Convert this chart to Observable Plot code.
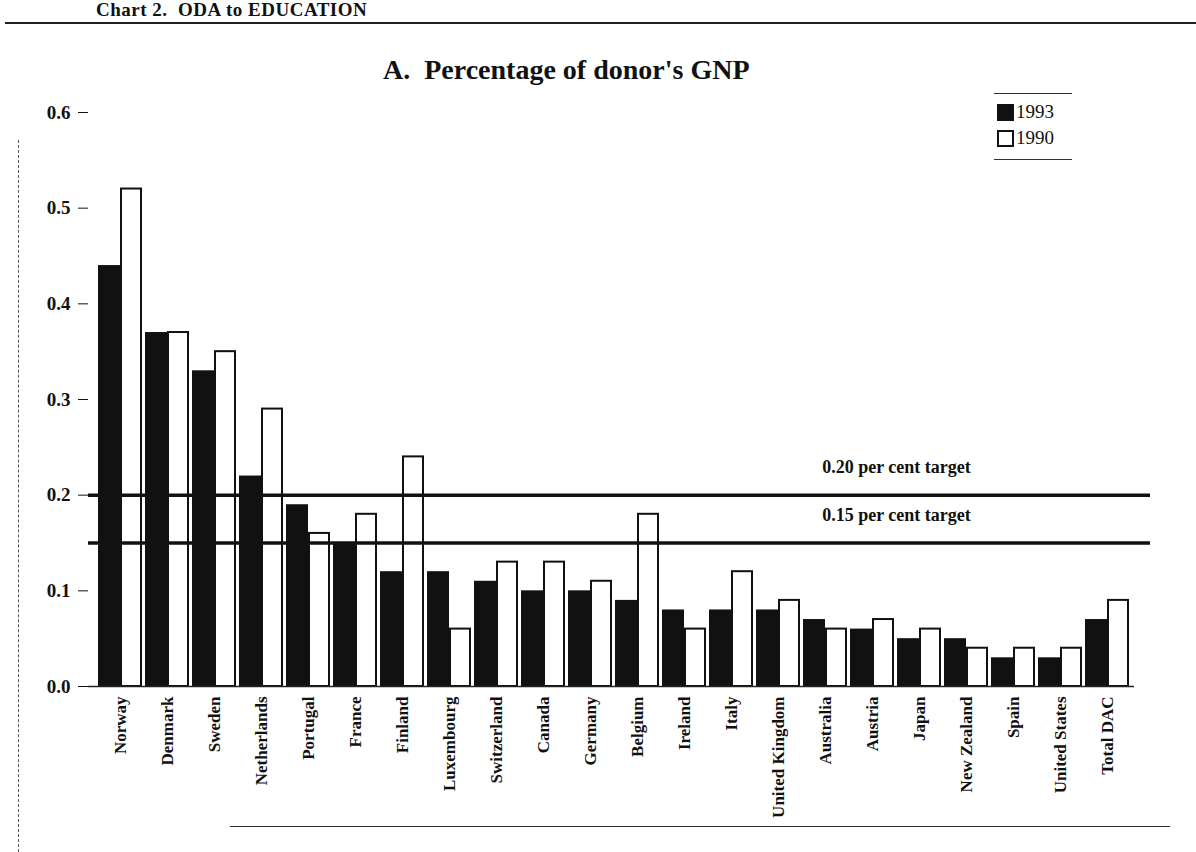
<!DOCTYPE html>
<html>
<head>
<meta charset="utf-8">
<script src="https://cdn.jsdelivr.net/npm/d3@7"></script>
<script src="https://cdn.jsdelivr.net/npm/@observablehq/plot@0.6"></script>
<style>
  body { margin: 0; background: #fff; width: 1196px; height: 852px; overflow: hidden; position: relative; font-family: "Liberation Serif", "DejaVu Serif", serif; color: #111; }
  #hdr { position: absolute; left: 96px; top: 0px; font: bold 19px "Liberation Serif", serif; white-space: nowrap; letter-spacing: 0.5px; line-height: 20px; }
  #hrule { position: absolute; left: 5px; top: 22px; width: 1191px; border-top: 2px solid #222; }
  #title { position: absolute; left: 383px; top: 54px; font: bold 28px "Liberation Serif", serif; white-space: nowrap; }
  #legend { position: absolute; left: 994px; top: 93px; width: 78px; border-top: 1px solid #333; border-bottom: 1px solid #333; padding: 5px 0 8px 0; }
  #legend .item { display: flex; align-items: center; height: 26px; font: 19px "Liberation Serif", serif; }
  #legend .sw { width: 13px; height: 13px; border: 2px solid #111; margin: 0 2px 0 3px; box-sizing: content-box; }
  #leftdash { position: absolute; left: 18px; top: 140px; height: 712px; border-left: 1.5px dashed #555; }
  #bottomrule { position: absolute; left: 230px; top: 826px; width: 940px; border-top: 1.5px solid #333; }
  #chart { position: absolute; left: 0; top: 0; }
</style>
</head>
<body>
<div id="hdr">Chart 2.&nbsp; ODA to EDUCATION</div>
<div id="hrule"></div>
<div id="leftdash"></div>
<div id="bottomrule"></div>
<div id="chart"></div>
<div id="title">A.&nbsp; Percentage of donor's GNP</div>
<div id="legend"></div>
<script>
// ---- data ----
const countries = ["Norway", "Denmark", "Sweden", "Netherlands", "Portugal", "France", "Finland", "Luxembourg", "Switzerland", "Canada", "Germany", "Belgium", "Ireland", "Italy", "United Kingdom", "Australia", "Austria", "Japan", "New Zealand", "Spain", "United States", "Total DAC"];
const values1993 = [0.44, 0.37, 0.33, 0.22, 0.19, 0.15, 0.12, 0.12, 0.11, 0.10, 0.10, 0.09, 0.08, 0.08, 0.08, 0.07, 0.06, 0.05, 0.05, 0.03, 0.03, 0.07];
const values1990 = [0.52, 0.37, 0.35, 0.29, 0.16, 0.18, 0.24, 0.06, 0.13, 0.13, 0.11, 0.18, 0.06, 0.12, 0.09, 0.06, 0.07, 0.06, 0.04, 0.04, 0.04, 0.09];
const seriesNames = ["1993", "1990"];
const targetValues = [0.20, 0.15];
const targetLabels = ["0.20 per cent target", "0.15 per cent target"];
const yTicks = [0, 0.1, 0.2, 0.3, 0.4, 0.5, 0.6];

const rows = countries.map((c, i) => ({country: c, v1993: values1993[i], v1990: values1990[i]}));
const targets = targetValues.map((v, i) => ({value: v, label: targetLabels[i]}));

const chart = Plot.plot({
  width: 1196,
  height: 852,
  marginLeft: 88,
  marginRight: 46,
  marginTop: 107,
  marginBottom: 166,
  style: {fontFamily: "'Liberation Serif', serif", background: "transparent", color: "#111"},
  x: {domain: countries, range: [96, 1132], padding: 0, label: null},
  y: {domain: [0, 0.6], range: [686, 112], label: null},
  marks: [
    Plot.barY(rows, {x: "country", y: "v1993", fill: "#111", insetLeft: 1, insetRight: 24}),
    Plot.barY(rows, {x: "country", y: "v1990", fill: "white", stroke: "#111", strokeWidth: 2, insetLeft: 24, insetRight: 3}),
    Plot.ruleY([0], {stroke: "#222", strokeWidth: 1.5, insetRight: 16}),
    Plot.ruleY(targets, {y: "value", stroke: "#111", strokeWidth: 3.5}),
    Plot.text(targets, {y: "value", text: "label", frameAnchor: "right", textAnchor: "middle", dx: -254, dy: -28, fontSize: 18, fontWeight: "bold", fill: "#111"}),
    Plot.axisY({ticks: yTicks, tickFormat: d => d.toFixed(1), tickSize: 10, tickPadding: 8, fontSize: 19, fontWeight: "bold", label: null}),
    Plot.axisX({tickSize: 0, tickRotate: -90, tickPadding: 10, fontSize: 17, fontWeight: "bold", label: null})
  ]
});
document.getElementById("chart").appendChild(chart);

// legend built from series arrays
const legend = document.getElementById("legend");
const swatchFill = {"1993": "#111", "1990": "#fff"};
seriesNames.forEach(name => {
  const item = document.createElement("div");
  item.className = "item";
  const sw = document.createElement("span");
  sw.className = "sw";
  sw.style.background = swatchFill[name];
  const t = document.createElement("span");
  t.textContent = name;
  item.appendChild(sw);
  item.appendChild(t);
  legend.appendChild(item);
});
</script>
</body>
</html>
